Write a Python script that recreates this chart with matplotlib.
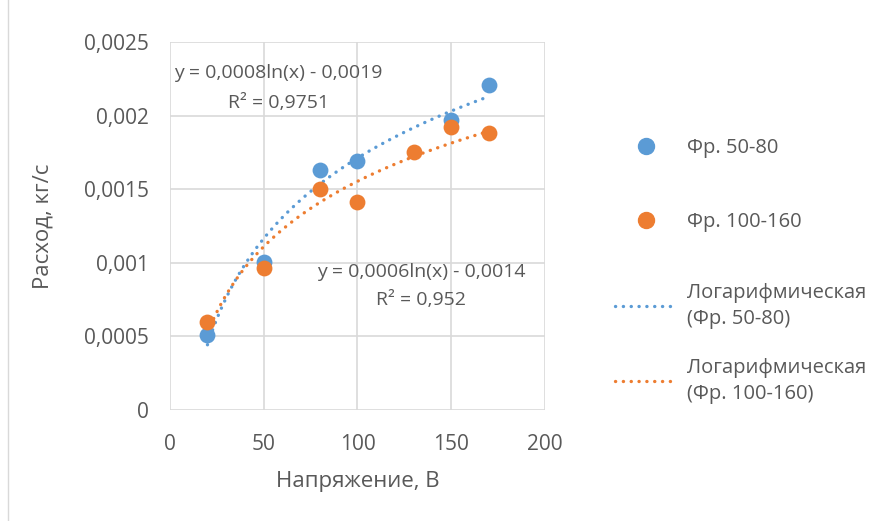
import numpy as np
import matplotlib
matplotlib.use('Agg')
import matplotlib.pyplot as plt
from matplotlib.lines import Line2D
from matplotlib.patches import Rectangle

plt.rcParams['font.family'] = ['Open Sans', 'DejaVu Sans']

# voltage (V) and flow rate (kg/s) for the two fractions
x_50_80 = [20, 50, 80, 100, 150, 170]
y_50_80 = [0.00051, 0.001005, 0.00163, 0.00169, 0.00197, 0.00221]
x_100_160 = [20, 50, 80, 100, 130, 150, 170]
y_100_160 = [0.0006, 0.000965, 0.0015, 0.00141, 0.00175, 0.00192, 0.00188]

series_labels = ['Фр. 50-80', 'Фр. 100-160']
trend_labels = ['Логарифмическая\n(Фр. 50-80)', 'Логарифмическая\n(Фр. 100-160)']
eq_labels = ['y = 0,0008ln(x) - 0,0019\nR² = 0,9751',
             'y = 0,0006ln(x) - 0,0014\nR² = 0,952']

y_ticks = [0, 0.0005, 0.001, 0.0015, 0.002, 0.0025]
y_tick_labels = ['0', '0,0005', '0,001', '0,0015', '0,002', '0,0025']
x_ticks = [0, 50, 100, 150, 200]

blue = '#5B9BD5'
orange = '#ED7D31'
text_col = '#595959'
grid_col = '#D9D9D9'


def log_fit(x, y):
	x = np.asarray(x, float)
	y = np.asarray(y, float)
	a, b = np.polyfit(np.log(x), y, 1)
	xs = np.linspace(x.min(), x.max(), 200)
	return xs, a * np.log(xs) + b


fig = plt.figure(figsize=(8.88, 5.21), dpi=100)
fig.patches.append(Rectangle((0.009, -0.01), 1.2, 1.2, transform=fig.transFigure,
	fill=False, edgecolor=grid_col, linewidth=1))
ax = fig.add_axes([0.1914, 0.2131, 0.4223, 0.7063])

# round dots: near-zero dash length with round caps
dotted = (0, (0.05, 2.3))
lw = 2.4
for xs, ys, col in [(x_50_80, y_50_80, blue), (x_100_160, y_100_160, orange)]:
	fx, fy = log_fit(xs, ys)
	ax.plot(fx, fy, color=col, linestyle=dotted, linewidth=lw,
		dash_capstyle='round', zorder=2)

ax.scatter(x_50_80, y_50_80, s=130, color=blue, zorder=3, linewidths=0)
ax.scatter(x_100_160, y_100_160, s=130, color=orange, zorder=4, linewidths=0)

ax.set_xlim(0, 200)
ax.set_ylim(0, 0.0025)
ax.set_xticks(x_ticks)
ax.set_yticks(y_ticks)
ax.set_yticklabels(y_tick_labels)
ax.tick_params(length=0, labelsize=15, colors=text_col)
ax.tick_params(axis='y', pad=15)
ax.tick_params(axis='x', pad=17)
for s in ax.spines.values():
	s.set_visible(False)
ax.grid(True, color=grid_col, linewidth=1.2)
ax.set_axisbelow(True)

ax.set_xlabel('Напряжение, В', fontsize=16, color=text_col, labelpad=12)
ax.set_ylabel('Расход, кг/с', fontsize=16, color=text_col, labelpad=22)

ax.text(58, 0.00219, eq_labels[0], ha='center', va='center', fontsize=14,
	color=text_col, linespacing=1.85)
ax.text(134, 0.000842, eq_labels[1], ha='center', va='center', fontsize=14,
	color=text_col, linespacing=1.75)

# markers and trendlines go in two stacked legends so the spacing can differ
point_handles = [
	Line2D([], [], marker='o', color=blue, linestyle='none', markersize=11.5),
	Line2D([], [], marker='o', color=orange, linestyle='none', markersize=11.5),
]
trend_handles = [
	Line2D([], [], color=blue, linestyle=dotted, linewidth=lw, dash_capstyle='round'),
	Line2D([], [], color=orange, linestyle=dotted, linewidth=lw, dash_capstyle='round'),
]
leg_kw = dict(loc='upper left', frameon=False, fontsize=14.5, labelcolor=text_col,
	handlelength=3.1, handletextpad=0.5)
leg1 = fig.legend(point_handles, series_labels, bbox_to_anchor=(0.672, 0.77),
	labelspacing=2.7, **leg_kw)
leg2 = fig.legend(trend_handles, trend_labels, bbox_to_anchor=(0.672, 0.492),
	labelspacing=1.45, **leg_kw)
for t in leg2.get_texts():
	t.set_linespacing(1.4)

fig.savefig('out.png', dpi=100)
